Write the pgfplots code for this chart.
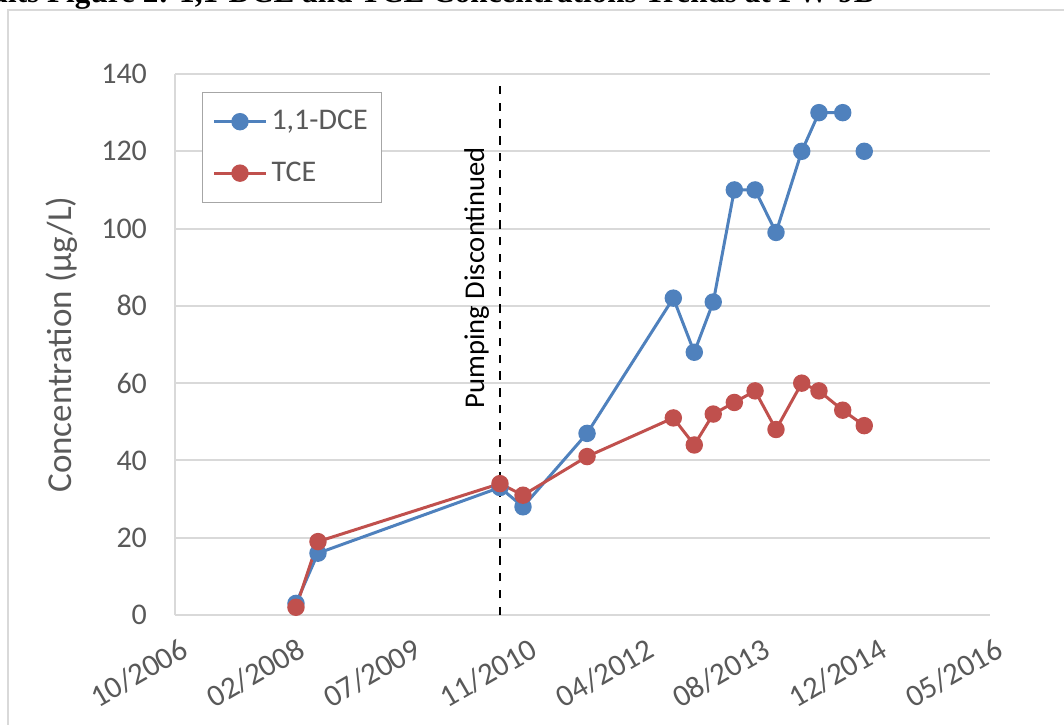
\documentclass[border=0pt]{standalone}
\usepackage{fontspec}
\setmainfont{Carlito}
\newfontfamily\titlefont{Liberation Serif}
\usepackage{pgfplots}
\pgfplotsset{compat=1.18}
\definecolor{dceblue}{HTML}{4F81BD}
\definecolor{tcered}{HTML}{C0504D}
\definecolor{txtgray}{HTML}{595959}
\definecolor{gridgray}{HTML}{D9D9D9}

\begin{document}
\begin{tikzpicture}
% chart frame and the cut-off caption above it
\draw[gridgray, line width=1pt] (4pt,-5pt) -- (4pt,357pt) -- (540pt,357pt);
\node[anchor=base east, font=\titlefont\bfseries\fontsize{15.6}{18}\selectfont, inner sep=0pt]
  at (437.5pt,360.8pt) {Results Figure 2: 1,1-DCE and TCE Concentrations Trends at PW-9B};

\begin{axis}[
  at={(87.5pt,54.5pt)}, anchor=south west,
  scale only axis, width=407.5pt, height=270.5pt,
  xmin=0, xmax=7, ymin=0, ymax=140,
  xtick={0,...,7},
  xticklabels={10/2006,02/2008,07/2009,11/2010,04/2012,08/2013,12/2014,05/2016},
  ytick={0,20,...,140},
  axis x line=bottom, axis y line=left,
  axis line style={-, gridgray, line width=1pt},
  major tick length=0pt,
  ymajorgrids, major grid style={gridgray, line width=1pt},
  tick label style={text=txtgray},
  /pgf/number format/assume math mode=true,
  x tick label style={font=\fontsize{15.5}{18}\selectfont, rotate=30, anchor=north east, yshift=-7pt},
  y tick label style={font=\fontsize{15}{18}\selectfont, xshift=-10.5pt},
  ylabel={Concentration (µg/L)},
  ylabel style={font=\fontsize{17.5}{20}\selectfont, text=txtgray,
    at={(axis description cs:-0.139,0.5)}, anchor=center},
  legend style={at={(axis description cs:0.033,0.967)}, anchor=north west,
    draw=gray!70, line width=0.6pt, inner xsep=5pt, inner ysep=7pt, row sep=10.5pt,
    font=\fontsize{15}{18}\selectfont, text=txtgray},
  legend cell align=left,
  legend image code/.code={\draw[mark repeat=2, mark phase=2]
    plot coordinates {(0pt,0pt) (13pt,0pt) (26pt,0pt)};},
  unbounded coords=jump,
  clip=false,
]

% 1,1-DCE (gap before the last sample)
\addplot[color=dceblue, line width=1.5pt, mark=*, mark size=3.6pt] coordinates {
  (1.039,3) (1.228,16) (2.791,33) (2.989,28) (3.539,47)
  (4.280,82) (4.460,68) (4.623,81) (4.804,110) (4.982,110)
  (5.162,99) (5.383,120) (5.531,130) (5.735,130) (5.827,nan) (5.920,120)
};
\addlegendentry{1,1-DCE}

% TCE
\addplot[color=tcered, line width=1.5pt, mark=*, mark size=3.6pt] coordinates {
  (1.039,2) (1.228,19) (2.791,34) (2.989,31) (3.539,41)
  (4.280,51) (4.460,44) (4.623,52) (4.804,55) (4.982,58)
  (5.162,48) (5.383,60) (5.531,58) (5.735,53) (5.920,49)
};
\addlegendentry{TCE}

\draw[black, line width=1.2pt, dash pattern=on 4.2pt off 4.2pt]
  (axis cs:2.791,0) -- (axis cs:2.791,138);
\node[rotate=90, font=\fontsize{14.3}{16}\selectfont, text=black]
  at (axis cs:2.59,87.3) {Pumping Discontinued};
\end{axis}

\pgfresetboundingbox
\path[use as bounding box] (0,0) rectangle (532pt,362pt);
\end{tikzpicture}
\end{document}
